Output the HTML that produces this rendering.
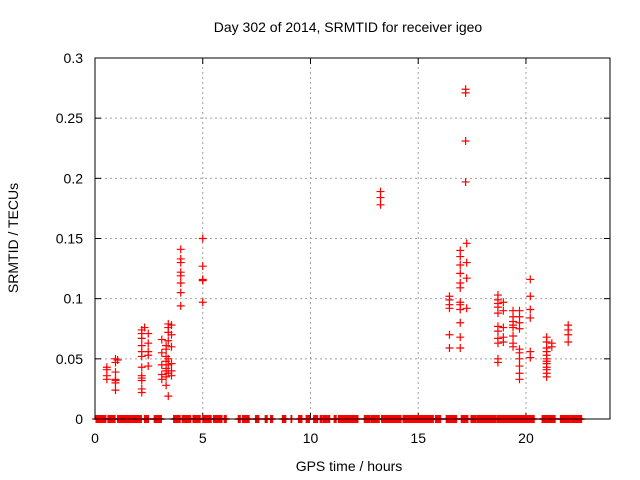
<!DOCTYPE html>
<html><head><meta charset="utf-8"><style>
body{margin:0;background:#fff;}
svg{display:block;font-family:"Liberation Sans",Arial,sans-serif;}
</style></head><body>
<svg id="chart" width="640" height="480">
<rect width="640" height="480" fill="#fff"/>
<g id="grid"></g>
<g id="ticks"></g>
<g id="marks"></g>
<rect x="95" y="58" width="515" height="361" fill="none" stroke="#000" stroke-width="1"/>
<text x="348" y="32" font-size="14" text-anchor="middle">Day 302 of 2014, SRMTID for receiver igeo</text>
<text x="349" y="471" font-size="14" text-anchor="middle">GPS time / hours</text>
<text transform="translate(18,238) rotate(-90)" font-size="14" text-anchor="middle">SRMTID / TECUs</text>
</svg>
<script>
const xTicks=[0,5,10,15,20];
const yTicks=[0,0.05,0.1,0.15,0.2,0.25,0.3];
const yTickLabels=["0","0.05","0.1","0.15","0.2","0.25","0.3"];
const pointHours=[0.55,0.55,0.55,0.55,0.95,0.95,0.95,0.95,0.95,0.95,0.95,1.05,
2.17,2.17,2.17,2.17,2.17,2.17,2.17,2.17,2.17,2.17,2.17,2.17,2.3,
2.47,2.47,2.47,2.47,2.47,
3.1,3.1,3.1,3.1,3.1,3.3,3.3,3.3,3.3,3.3,3.3,3.3,3.3,3.4,3.4,3.4,3.4,3.4,3.4,3.4,3.4,3.55,3.55,3.55,3.55,3.55,3.55,
3.98,3.98,3.98,3.98,3.98,3.98,3.98,3.98,
5.0,5.0,5.0,5.0,5.0,
13.25,13.25,13.25,
16.45,16.45,16.45,16.45,16.45,16.45,
16.95,16.95,16.95,16.95,16.95,16.95,16.95,16.95,16.95,16.95,16.95,16.95,
17.25,17.25,17.25,17.25,17.2,17.2,17.2,17.2,
18.7,18.7,18.7,18.7,18.7,18.7,18.7,18.7,18.7,18.7,18.7,18.95,18.95,18.95,18.95,18.95,
19.4,19.4,19.4,19.4,19.4,19.4,19.4,19.4,
19.7,19.7,19.7,19.7,19.7,19.7,19.7,19.7,19.7,19.7,
20.2,20.2,20.2,20.2,20.2,20.2,
20.96,20.96,20.96,20.96,20.96,20.96,20.96,20.96,20.96,20.96,20.96,20.96,21.2,21.2,
21.96,21.96,21.96,21.96];
const pointValues=[0.043,0.041,0.036,0.033,0.050,0.047,0.039,0.033,0.032,0.030,0.024,0.049,
0.074,0.071,0.067,0.061,0.056,0.052,0.043,0.036,0.034,0.032,0.025,0.022,0.076,
0.071,0.063,0.056,0.053,0.044,
0.066,0.055,0.045,0.037,0.033,0.061,0.058,0.052,0.048,0.042,0.040,0.035,0.028,0.079,0.076,0.072,0.065,0.050,0.045,0.038,0.019,0.078,0.070,0.060,0.046,0.040,0.036,
0.141,0.133,0.130,0.122,0.119,0.113,0.105,0.094,
0.150,0.127,0.116,0.115,0.097,
0.189,0.184,0.178,
0.102,0.099,0.095,0.092,0.070,0.059,
0.140,0.135,0.128,0.121,0.113,0.109,0.097,0.095,0.091,0.080,0.068,0.059,
0.146,0.130,0.117,0.092,0.274,0.271,0.231,0.197,
0.103,0.099,0.096,0.093,0.088,0.077,0.073,0.067,0.063,0.050,0.047,0.097,0.090,0.076,0.068,0.064,
0.090,0.085,0.081,0.078,0.076,0.069,0.063,0.060,
0.090,0.085,0.080,0.075,0.058,0.055,0.050,0.044,0.038,0.033,
0.116,0.102,0.091,0.084,0.056,0.051,
0.068,0.064,0.059,0.056,0.053,0.050,0.048,0.046,0.043,0.041,0.038,0.035,0.063,0.060,
0.078,0.074,0.070,0.064];
const zeroSpans=[[0.05,0.5],[0.6,0.95],[1.05,1.65],[1.7,2.15],[2.3,2.5],[2.75,3.1],[3.65,3.95],[4.05,4.45],[4.55,4.9],[5.0,5.4],[5.5,5.9],[6.0,6.1],[6.65,6.75],[6.85,7.15],[7.45,7.6],[7.9,8.0],[8.15,8.25],[8.7,8.85],[9.1,9.15],[9.45,9.6],[9.8,9.95],[10.15,10.35],[10.45,10.55],[10.6,10.75],[10.8,10.9],[11.1,11.2],[11.3,12.2],[12.5,12.75],[12.8,13.2],[13.3,14.2],[14.3,15.5],[15.55,15.7],[15.8,16.05],[16.3,16.8],[17.0,17.3],[17.45,17.7],[17.75,18.6],[18.65,19.7],[19.75,20.4],[20.75,21.35],[21.6,22.05],[22.1,22.6]];
const NS='http://www.w3.org/2000/svg';
const X0=95,X1=610,Y0=419,Y1=58,XMAX=23.9,YMAX=0.3;
function xs(h){return X0+(X1-X0)*h/XMAX;}
function ys(v){return Y0-(Y0-Y1)*v/YMAX;}
function mk(tag,attrs,parent){const e=document.createElementNS(NS,tag);for(const k in attrs)e.setAttribute(k,attrs[k]);parent.appendChild(e);return e;}
const grid=document.getElementById('grid'),ticks=document.getElementById('ticks'),marks=document.getElementById('marks');
xTicks.forEach(t=>{const x=xs(t);
 if(t>0){const g=mk('line',{x1:x,x2:x,y1:Y0,y2:Y1,stroke:'#a0a0a0','stroke-dasharray':'2,3'},grid);
 
 }
 mk('line',{x1:x,x2:x,y1:Y0,y2:Y0-6,stroke:'#000'},ticks);
 mk('line',{x1:x,x2:x,y1:Y1,y2:Y1+6,stroke:'#000'},ticks);
 const l=mk('text',{x:x,y:443,'font-size':14,'text-anchor':'middle'},ticks);l.textContent=String(t);
 
 });
yTicks.forEach((t,i)=>{const y=ys(t);
 if(t>0&&t<YMAX){const g=mk('line',{x1:X0,x2:X1,y1:y,y2:y,stroke:'#a0a0a0','stroke-dasharray':'2,3'},grid);
 
 }
 mk('line',{x1:X0,x2:X0+6,y1:y,y2:y,stroke:'#000'},ticks);
 mk('line',{x1:X1,x2:X1-6,y1:y,y2:y,stroke:'#000'},ticks);
 const l=mk('text',{x:83,y:y+5,'font-size':14,'text-anchor':'end'},ticks);l.textContent=yTickLabels[i];
 
 });
function cross(h,v){const x=xs(h),y=ys(v);
 const p=mk('path',{d:`M${x-4},${y}H${x+4}M${x},${y-4}V${y+4}`,stroke:'#f00','stroke-width':1.2,fill:'none'},marks);
 
 }
zeroSpans.forEach(s=>{for(let h=s[0];h<=s[1]+1e-9;h+=0.03)cross(h,0);});
pointHours.forEach((h,i)=>cross(h,pointValues[i]));
</script>
</body></html>
